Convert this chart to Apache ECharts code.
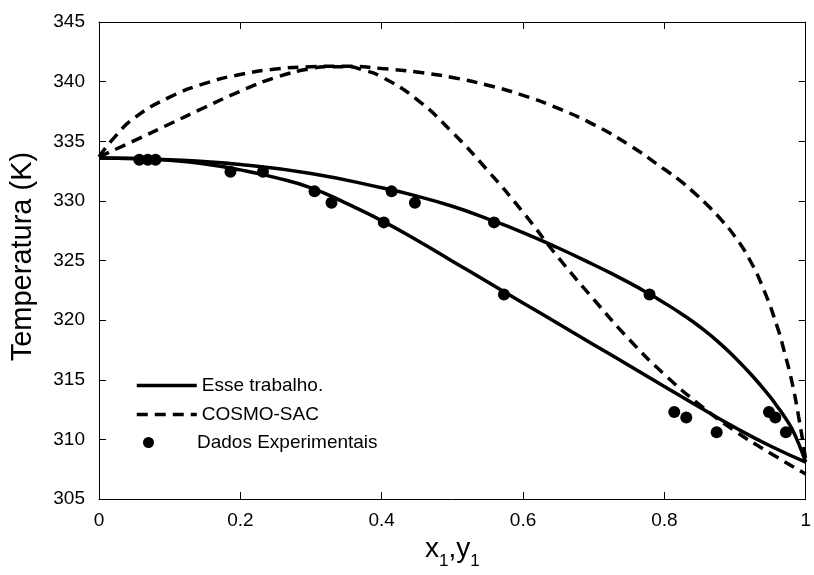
<!DOCTYPE html>
<html>
<head>
<meta charset="utf-8">
<script src="https://cdn.jsdelivr.net/npm/echarts@6/dist/echarts.min.js"></script>
<style>
html,body{margin:0;padding:0;background:#fff;}
#chart{width:814px;height:575px;}
</style>
</head>
<body>
<div id="chart"></div>
<script>
// ---- data ----
const xTicks = [0, 0.2, 0.4, 0.6, 0.8, 1];
const yTicks = [305, 310, 315, 320, 325, 330, 335, 340, 345];

// "Esse trabalho." liquid (bubble) curve
const modelLiqX = [0, 0.05, 0.1, 0.15, 0.2, 0.25, 0.3, 0.35, 0.4, 0.45, 0.5, 0.55, 0.6, 0.65, 0.7, 0.75, 0.8, 0.85, 0.9, 0.95, 1.0];
const modelLiqT = [333.6, 333.55, 333.4, 333.1, 332.6, 331.95, 331.1, 329.8, 328.35, 326.7, 324.95, 323.2, 321.45, 319.7, 317.95, 316.2, 314.45, 312.7, 311.0, 309.45, 308.1];
// "Esse trabalho." vapour (dew) curve
const modelVapX = [0, 0.1, 0.2, 0.3, 0.4, 0.45, 0.5, 0.55, 0.6, 0.65, 0.7, 0.725, 0.75, 0.775, 0.8, 0.825, 0.85, 0.875, 0.9, 0.925, 0.95, 0.96, 0.97, 0.98, 0.99, 1.0];
const modelVapT = [333.6, 333.45, 333.05, 332.3, 331.1, 330.4, 329.55, 328.5, 327.35, 326.05, 324.65, 323.92, 323.15, 322.33, 321.45, 320.5, 319.45, 318.25, 316.85, 315.3, 313.55, 312.75, 311.9, 310.95, 309.65, 308.1];

// COSMO-SAC liquid curve
const cosmoLiqX = [0, 0.05, 0.1, 0.15, 0.2, 0.25, 0.3, 0.325, 0.35, 0.375, 0.4, 0.45, 0.5, 0.55, 0.6, 0.65, 0.7, 0.75, 0.8, 0.85, 0.9, 0.95, 1.0];
const cosmoLiqT = [333.7, 335.05, 336.45, 337.85, 339.2, 340.35, 341.1, 341.25, 341.25, 340.95, 340.4, 338.5, 335.75, 332.55, 329.05, 325.25, 321.75, 318.4, 315.45, 312.9, 310.7, 308.85, 307.1];
// COSMO-SAC vapour curve
const cosmoVapX = [0, 0.02, 0.05, 0.1, 0.15, 0.2, 0.25, 0.3, 0.35, 0.4, 0.45, 0.5, 0.55, 0.6, 0.65, 0.7, 0.75, 0.8, 0.82, 0.84, 0.86, 0.88, 0.9, 0.92, 0.94, 0.96, 0.97, 0.98, 0.99, 1.0];
const cosmoVapT = [333.7, 335.2, 336.95, 338.7, 339.85, 340.6, 341.05, 341.25, 341.3, 341.1, 340.8, 340.35, 339.7, 338.85, 337.75, 336.4, 334.7, 332.65, 331.8, 330.8, 329.7, 328.45, 327.0, 325.15, 322.65, 319.4, 317.3, 314.95, 311.9, 308.3];

// experimental points
const expX = [0.057, 0.069, 0.080, 0.186, 0.232, 0.305, 0.329, 0.403, 0.414, 0.447, 0.559, 0.573, 0.779, 0.814, 0.831, 0.874, 0.948, 0.957, 0.972];
const expT = [333.45, 333.45, 333.45, 332.45, 332.45, 330.8, 329.85, 328.2, 330.8, 329.85, 328.2, 322.15, 322.15, 312.3, 311.85, 310.6, 312.3, 311.85, 310.6];

const seriesNames = ['Esse trabalho.', 'COSMO-SAC', 'Dados Experimentais'];

// ---- build ----
const zip = (xs, ys) => xs.map((x, i) => [x, ys[i]]);
const FONT = '"Liberation Sans", Arial, Helvetica, sans-serif';

const solidStyle = { color: '#000', width: 3.5, type: 'solid', opacity: 1 };
const dashStyle = { color: '#000', width: 3.5, type: [11, 7], opacity: 1 };

function lineSeries(name, data, style) {
  return {
    type: 'line', name, data, symbol: 'none', showSymbol: false, smooth: 0.5,
    lineStyle: style, itemStyle: { color: '#000' }, z: 2, animation: false
  };
}

const chart = echarts.init(document.getElementById('chart'), null, { renderer: 'canvas' });
const axisCommon = {
  type: 'value',
  axisLine: { show: true, onZero: false, lineStyle: { color: '#000', width: 1 } },
  axisTick: { show: true, inside: true, length: 7, lineStyle: { color: '#000', width: 1 } },
  splitLine: { show: false }
};

chart.setOption({
  backgroundColor: '#fff',
  animation: false,
  textStyle: { fontFamily: FONT },
  grid: { left: 97, right: 2, top: 22, bottom: 75, containLabel: false },
  xAxis: [
    Object.assign({}, axisCommon, {
      min: xTicks[0], max: xTicks[xTicks.length - 1], interval: xTicks[1] - xTicks[0],
      axisLabel: { color: '#000', fontSize: 19, margin: 12, fontFamily: FONT },
      name: '{a|x}{b|1}{a|,y}{b|1}', nameLocation: 'middle', nameGap: 30,
      nameTextStyle: {
        rich: {
          a: { fontSize: 28, color: '#000', fontFamily: FONT, lineHeight: 32, verticalAlign: 'bottom' },
          b: { fontSize: 17, color: '#000', fontFamily: FONT, lineHeight: 32, verticalAlign: 'bottom', padding: [0, 0, -7, 0] }
        }
      }
    }),
    Object.assign({}, axisCommon, {
      position: 'top',
      min: xTicks[0], max: xTicks[xTicks.length - 1], interval: xTicks[1] - xTicks[0],
      axisLabel: { show: false }
    })
  ],
  yAxis: [
    Object.assign({}, axisCommon, {
      min: yTicks[0], max: yTicks[yTicks.length - 1], interval: yTicks[1] - yTicks[0],
      axisLabel: { color: '#000', fontSize: 19, margin: 14, fontFamily: FONT },
      name: 'Temperatura (K)', nameLocation: 'middle', nameGap: 62, nameRotate: 90,
      nameTextStyle: { fontSize: 29, color: '#000', fontFamily: FONT, padding: [0, 0, 0, 8] }
    }),
    Object.assign({}, axisCommon, {
      position: 'right',
      min: yTicks[0], max: yTicks[yTicks.length - 1], interval: yTicks[1] - yTicks[0],
      axisLabel: { show: false }
    })
  ],
  legend: [
    {
      data: [seriesNames[0], seriesNames[1]],
      orient: 'vertical', left: 130, top: 371,
      itemWidth: 60, itemHeight: 14, itemGap: 10,
      itemStyle: { opacity: 0 },
      lineStyle: { opacity: 1, width: 3.5 },
      textStyle: { fontSize: 19, color: '#000', fontFamily: FONT },
      selectedMode: false
    },
    {
      data: [{ name: seriesNames[2], icon: 'circle' }],
      orient: 'vertical', left: 138, top: 428,
      itemWidth: 11, itemHeight: 11,
      itemStyle: { opacity: 1, color: '#000' },
      textStyle: { fontSize: 19, color: '#000', fontFamily: FONT, padding: [0, 0, 0, 38] },
      selectedMode: false
    }
  ],
  series: [
    lineSeries(seriesNames[0], zip(modelLiqX, modelLiqT), solidStyle),
    lineSeries(seriesNames[0], zip(modelVapX, modelVapT), solidStyle),
    lineSeries(seriesNames[1], zip(cosmoLiqX, cosmoLiqT), dashStyle),
    lineSeries(seriesNames[1], zip(cosmoVapX, cosmoVapT), dashStyle),
    {
      type: 'scatter', name: seriesNames[2], data: zip(expX, expT),
      symbol: 'circle', symbolSize: 12, itemStyle: { color: '#000', opacity: 1 }, z: 3
    }
  ]
});
</script>
</body>
</html>
